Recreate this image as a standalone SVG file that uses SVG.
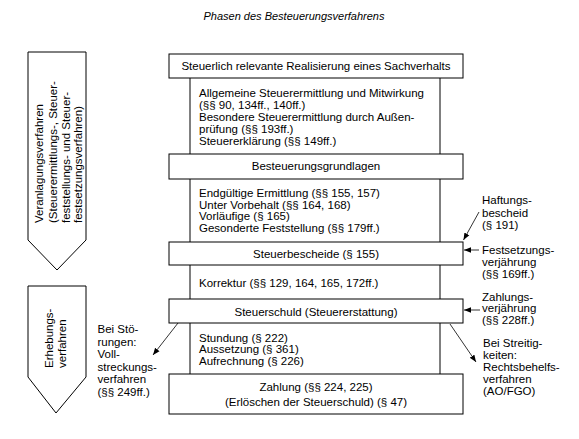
<svg xmlns="http://www.w3.org/2000/svg" width="579" height="439" viewBox="0 0 579 439">
<defs>
<style>
.box{fill:#fff;stroke:#000;stroke-width:1}
.t{font-family:"Liberation Sans",Arial,Helvetica,sans-serif;font-size:11.5px;fill:#000}
.c{text-anchor:middle}
.ttl{font-style:italic;font-size:11px}
.ln{stroke:#000;stroke-width:1;fill:none}
.con{stroke:#000;stroke-width:0.8;fill:none;marker-end:url(#ah)}
</style>
<marker id="ah" viewBox="0 0 10 10" refX="10" refY="5" markerWidth="7" markerHeight="7" orient="auto" markerUnits="userSpaceOnUse">
<path d="M0,1 L10,5 L0,9 z" fill="#000"/>
</marker>
</defs>
<rect x="0" y="0" width="579" height="439" fill="#fff"/>

<g id="title">
<text class="t ttl c" x="294" y="20">Phasen des Besteuerungsverfahrens</text>
</g>

<g id="connectors">
<line class="ln" x1="190" y1="78" x2="190" y2="154"/>
<line class="ln" x1="440" y1="78" x2="440" y2="154"/>
<line class="ln" x1="190" y1="179" x2="190" y2="242"/>
<line class="ln" x1="440" y1="179" x2="440" y2="242"/>
<line class="ln" x1="190" y1="265" x2="190" y2="299"/>
<line class="ln" x1="440" y1="265" x2="440" y2="299"/>
<line class="ln" x1="190" y1="323" x2="190" y2="374"/>
<line class="ln" x1="440" y1="323" x2="440" y2="374"/>
<path class="con" d="M479,212 L463.5,240"/>
<path class="con" d="M479,250 L464,250"/>
<path class="con" d="M480,310 L464,310"/>
<path class="con" d="M450,324 L476,362"/>
<path class="con" d="M178,323 L153,355"/>
</g>

<g id="phase-veranlagung">
<path class="box" d="M28,52 L86,52 L86,240 L57,270 L28,240 Z"/>
<text class="t" transform="translate(43,223) rotate(-90)">Veranlagungsverfahren</text>
<text class="t" transform="translate(56.5,223) rotate(-90)">(Steuerermittlungs-, Steuer-</text>
<text class="t" transform="translate(69.5,223) rotate(-90)">feststellungs- und Steuer-</text>
<text class="t" transform="translate(82,223) rotate(-90)">festsetzungsverfahren)</text>
</g>

<g id="phase-erhebung">
<path class="box" d="M28,286 L86,286 L86,377 L56,413 L28,377 Z"/>
<text class="t" transform="translate(52.5,368) rotate(-90)">Erhebungs-</text>
<text class="t" transform="translate(66,368) rotate(-90)">verfahren</text>
</g>

<g id="n-sachverhalt">
<rect class="box" x="169" y="54" width="294" height="24"/>
<text class="t c" x="316" y="70">Steuerlich relevante Realisierung eines Sachverhalts</text>
</g>

<g id="t-ermittlung">
<text class="t" x="199" y="97">Allgemeine Steuerermittlung und Mitwirkung</text>
<text class="t" x="199" y="109">(§§ 90, 134ff., 140ff.)</text>
<text class="t" x="199" y="121">Besondere Steuerermittlung durch Außen-</text>
<text class="t" x="199" y="133">prüfung (§§ 193ff.)</text>
<text class="t" x="199" y="145">Steuererklärung (§§ 149ff.)</text>
</g>

<g id="n-grundlagen">
<rect class="box" x="169" y="154" width="294" height="25"/>
<text class="t c" x="316" y="170">Besteuerungsgrundlagen</text>
</g>

<g id="t-festsetzung">
<text class="t" x="199" y="197">Endgültige Ermittlung (§§ 155, 157)</text>
<text class="t" x="199" y="208.7">Unter Vorbehalt (§§ 164, 168)</text>
<text class="t" x="199" y="220.4">Vorläufige (§ 165)</text>
<text class="t" x="199" y="232">Gesonderte Feststellung (§§ 179ff.)</text>
</g>

<g id="n-bescheide">
<rect class="box" x="169" y="242" width="294" height="23"/>
<text class="t c" x="316" y="258">Steuerbescheide (§ 155)</text>
</g>

<g id="t-korrektur">
<text class="t" x="199" y="287">Korrektur (§§ 129, 164, 165, 172ff.)</text>
</g>

<g id="n-steuerschuld">
<rect class="box" x="169" y="299" width="294" height="24"/>
<text class="t c" x="316" y="316">Steuerschuld (Steuererstattung)</text>
</g>

<g id="t-erhebung">
<text class="t" x="199" y="341.5">Stundung (§ 222)</text>
<text class="t" x="199" y="353">Aussetzung (§ 361)</text>
<text class="t" x="199" y="364.5">Aufrechnung (§ 226)</text>
</g>

<g id="n-zahlung">
<rect class="box" x="169" y="374" width="294" height="40"/>
<text class="t c" x="316" y="391">Zahlung (§§ 224, 225)</text>
<text class="t c" x="316" y="406">(Erlöschen der Steuerschuld) (§ 47)</text>
</g>

<g id="note-stoerungen">
<text class="t" x="97.5" y="333">Bei Stö-</text>
<text class="t" x="97.5" y="345.5">rungen:</text>
<text class="t" x="97.5" y="358">Voll-</text>
<text class="t" x="97.5" y="370.5">streckungs-</text>
<text class="t" x="97.5" y="383">verfahren</text>
<text class="t" x="97.5" y="395.5">(§§ 249ff.)</text>
</g>

<g id="note-haftung">
<text class="t" x="482" y="204">Haftungs-</text>
<text class="t" x="482" y="216.5">bescheid</text>
<text class="t" x="482" y="229">(§ 191)</text>
</g>

<g id="note-festsetzung">
<text class="t" x="482" y="254">Festsetzungs-</text>
<text class="t" x="482" y="266">verjährung</text>
<text class="t" x="482" y="278">(§§ 169ff.)</text>
</g>

<g id="note-zahlung">
<text class="t" x="482" y="300.5">Zahlungs-</text>
<text class="t" x="482" y="312">verjährung</text>
<text class="t" x="482" y="323.5">(§§ 228ff.)</text>
</g>

<g id="note-streit">
<text class="t" x="483" y="346.5">Bei Streitig-</text>
<text class="t" x="483" y="358.5">keiten:</text>
<text class="t" x="483" y="370.5">Rechtsbehelfs-</text>
<text class="t" x="483" y="382.5">verfahren</text>
<text class="t" x="483" y="394.5">(AO/FGO)</text>
</g>
</svg>
